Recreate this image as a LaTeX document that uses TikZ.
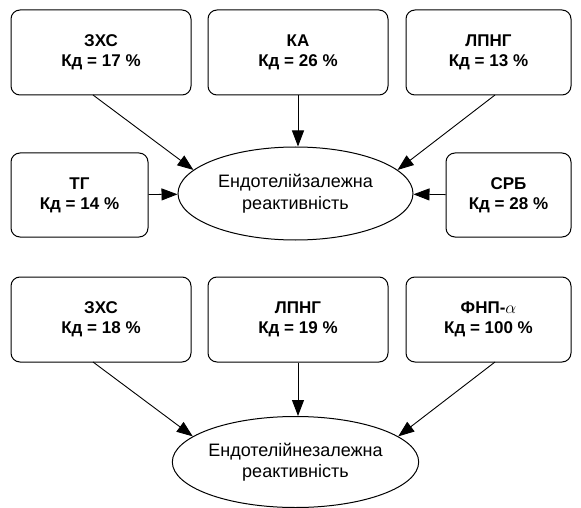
\documentclass[tikz,border=0pt]{standalone}
\usepackage{fontspec}
\setmainfont{Liberation Sans}
\usetikzlibrary{arrows.meta,shapes.geometric}
\begin{document}
\begin{tikzpicture}[x=1pt,y=-1pt,
  factor/.style={draw, line width=1pt, rounded corners=9pt, align=center,
    font=\fontsize{17}{20}\selectfont\bfseries, inner sep=0pt},
  outcome/.style={draw, ellipse, line width=1pt, align=center,
    font=\fontsize{18}{21.5}\selectfont, inner sep=0pt},
  link/.style={line width=0.9pt, -{Triangle[length=16pt,width=12pt]}}
]
\useasboundingbox (0,0) rectangle (581,508);
% top group
\node[factor, minimum width=180pt, minimum height=85pt] (zxs1) at (101,52.5) {ЗХС\\Кд = 17 \%};
\node[factor, minimum width=180pt, minimum height=85pt] (ka) at (298,52.5) {КА\\Кд = 26 \%};
\node[factor, minimum width=165pt, minimum height=85pt] (lpng1) at (488.5,52.5) {ЛПНГ\\Кд = 13 \%};
\node[factor, minimum width=137pt, minimum height=84pt] (tg) at (79.5,195) {ТГ\\Кд = 14 \%};
\node[factor, minimum width=125pt, minimum height=84pt] (srb) at (508.5,195) {СРБ\\Кд = 28 \%};
\node[outcome, minimum width=235pt, minimum height=93pt] (dep) at (295.5,193.5) {Ендотелійзалежна\\реактивність};
\coordinate (a1s) at (93,95);
\coordinate (a3s) at (495,95);
\draw[link] (a1s) -- (dep.167);
\draw[link] (ka) -- (ka |- dep.north);
\draw[link] (a3s) -- (dep.13);
\draw[link] (tg) -- (dep);
\draw[link] (srb) -- (dep);
% bottom group
\node[factor, minimum width=180pt, minimum height=85pt] (zxs2) at (101,319.5) {ЗХС\\Кд = 18 \%};
\node[factor, minimum width=180pt, minimum height=85pt] (lpng2) at (298,319.5) {ЛПНГ\\Кд = 19 \%};
\node[factor, minimum width=165pt, minimum height=85pt] (fnp) at (488.5,319.5) {ФНП-$\alpha$\\Кд = 100 \%};
\node[outcome, minimum width=235pt, minimum height=91pt] (indep) at (295.5,462) {Ендотелійнезалежна\\реактивність};
\coordinate (b1s) at (93,362);
\coordinate (b3s) at (495,362);
\draw[link] (b1s) -- (indep.166);
\draw[link] (lpng2) -- (lpng2 |- indep.north);
\draw[link] (b3s) -- (indep.14);
\end{tikzpicture}
\end{document}
